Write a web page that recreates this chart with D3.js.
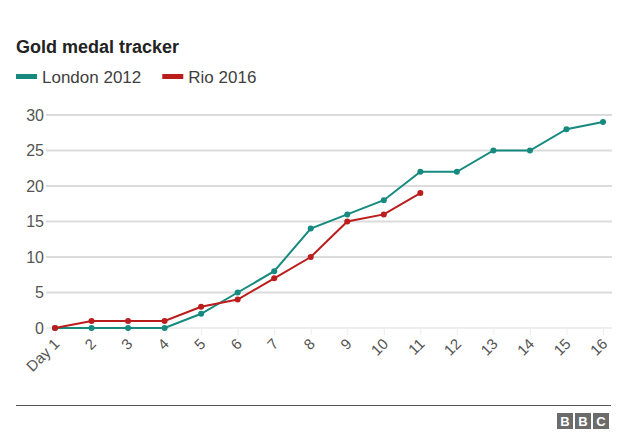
<!DOCTYPE html>
<html>
<head>
<meta charset="utf-8">
<script src="https://cdn.jsdelivr.net/npm/d3@7"></script>
<style>
  body { margin: 0; background: #fff; font-family: Arial, "Liberation Sans", sans-serif; }
</style>
</head>
<body>
<svg id="chart" width="640" height="435"></svg>
<script>
const days = ['Day 1', '2', '3', '4', '5', '6', '7', '8', '9', '10', '11', '12', '13', '14', '15', '16'];
const london2012 = [0, 0, 0, 0, 2, 5, 8, 14, 16, 18, 22, 22, 25, 25, 28, 29];
const rio2016 = [0, 1, 1, 1, 3, 4, 7, 10, 15, 16, 19];
const yTicks = [0, 5, 10, 15, 20, 25, 30];

const series = [
  { name: 'London 2012', values: london2012, color: '#168a7f' },
  { name: 'Rio 2016', values: rio2016, color: '#bb1d1d' }
];

const svg = d3.select('#chart');

// title + legend
svg.append('text')
  .attr('x', 16).attr('y', 53)
  .attr('font-size', 18).attr('font-weight', 'bold').attr('fill', '#222')
  .text('Gold medal tracker');

const legend = svg.append('g').attr('transform', 'translate(16,77)');
let lx = 0;
series.forEach(s => {
  legend.append('rect').attr('x', lx).attr('y', -3).attr('width', 21).attr('height', 5).attr('fill', s.color);
  const t = legend.append('text').attr('x', lx + 26).attr('y', 6)
    .attr('font-size', 17).attr('fill', '#404040').text(s.name);
  lx += 26 + t.node().getComputedTextLength() + 21;
});

const x = d3.scalePoint().domain(days).range([55, 603]);
const y = d3.scaleLinear().domain([0, 30]).range([328, 115]);

// gridlines
svg.append('g').selectAll('line')
  .data(yTicks)
  .join('line')
  .attr('x1', 46).attr('x2', 612)
  .attr('y1', d => y(d)).attr('y2', d => y(d))
  .attr('stroke', d => d === 0 ? '#eeeeee' : '#dcdcdc')
  .attr('stroke-width', 2);

// y axis labels
const yAxis = svg.append('g').attr('transform', 'translate(44,0)')
  .call(d3.axisLeft(y).tickValues(yTicks).tickSize(0).tickPadding(0));
yAxis.select('.domain').remove();
yAxis.selectAll('text').attr('font-size', 16).attr('fill', '#555')
  .attr('font-family', 'Arial, "Liberation Sans", sans-serif');

// x axis
const xAxis = svg.append('g').attr('transform', 'translate(0,329)')
  .call(d3.axisBottom(x).tickSize(6).tickPadding(4));
xAxis.select('.domain').remove();
xAxis.selectAll('.tick line').attr('stroke', '#ececec');
xAxis.selectAll('text')
  .attr('font-size', 15).attr('fill', '#555')
  .attr('font-family', 'Arial, "Liberation Sans", sans-serif')
  .attr('text-anchor', 'end')
  .attr('dy', '0.35em')
  .attr('transform', 'translate(-6,5) rotate(-45)');

// lines + points
const line = d3.line().x((d, i) => x(days[i])).y(d => y(d));
series.forEach(s => {
  svg.append('path')
    .datum(s.values)
    .attr('fill', 'none')
    .attr('stroke', s.color)
    .attr('stroke-width', 2)
    .attr('d', line);
  svg.append('g').selectAll('circle')
    .data(s.values)
    .join('circle')
    .attr('cx', (d, i) => x(days[i]))
    .attr('cy', d => y(d))
    .attr('r', 3)
    .attr('fill', s.color);
});

// footer
svg.append('line').attr('x1', 16).attr('x2', 611).attr('y1', 405.5).attr('y2', 405.5)
  .attr('stroke', '#555').attr('stroke-width', 1.2);

const logo = svg.append('g').attr('transform', 'translate(557,413)');
['B', 'B', 'C'].forEach((c, i) => {
  logo.append('rect').attr('x', i * 18).attr('y', 0).attr('width', 16).attr('height', 16).attr('fill', '#6b6b6b');
  logo.append('text').attr('x', i * 18 + 8).attr('y', 13).attr('text-anchor', 'middle')
    .attr('font-size', 13).attr('font-weight', 'bold').attr('fill', '#fff').text(c);
});
</script>
</body>
</html>
